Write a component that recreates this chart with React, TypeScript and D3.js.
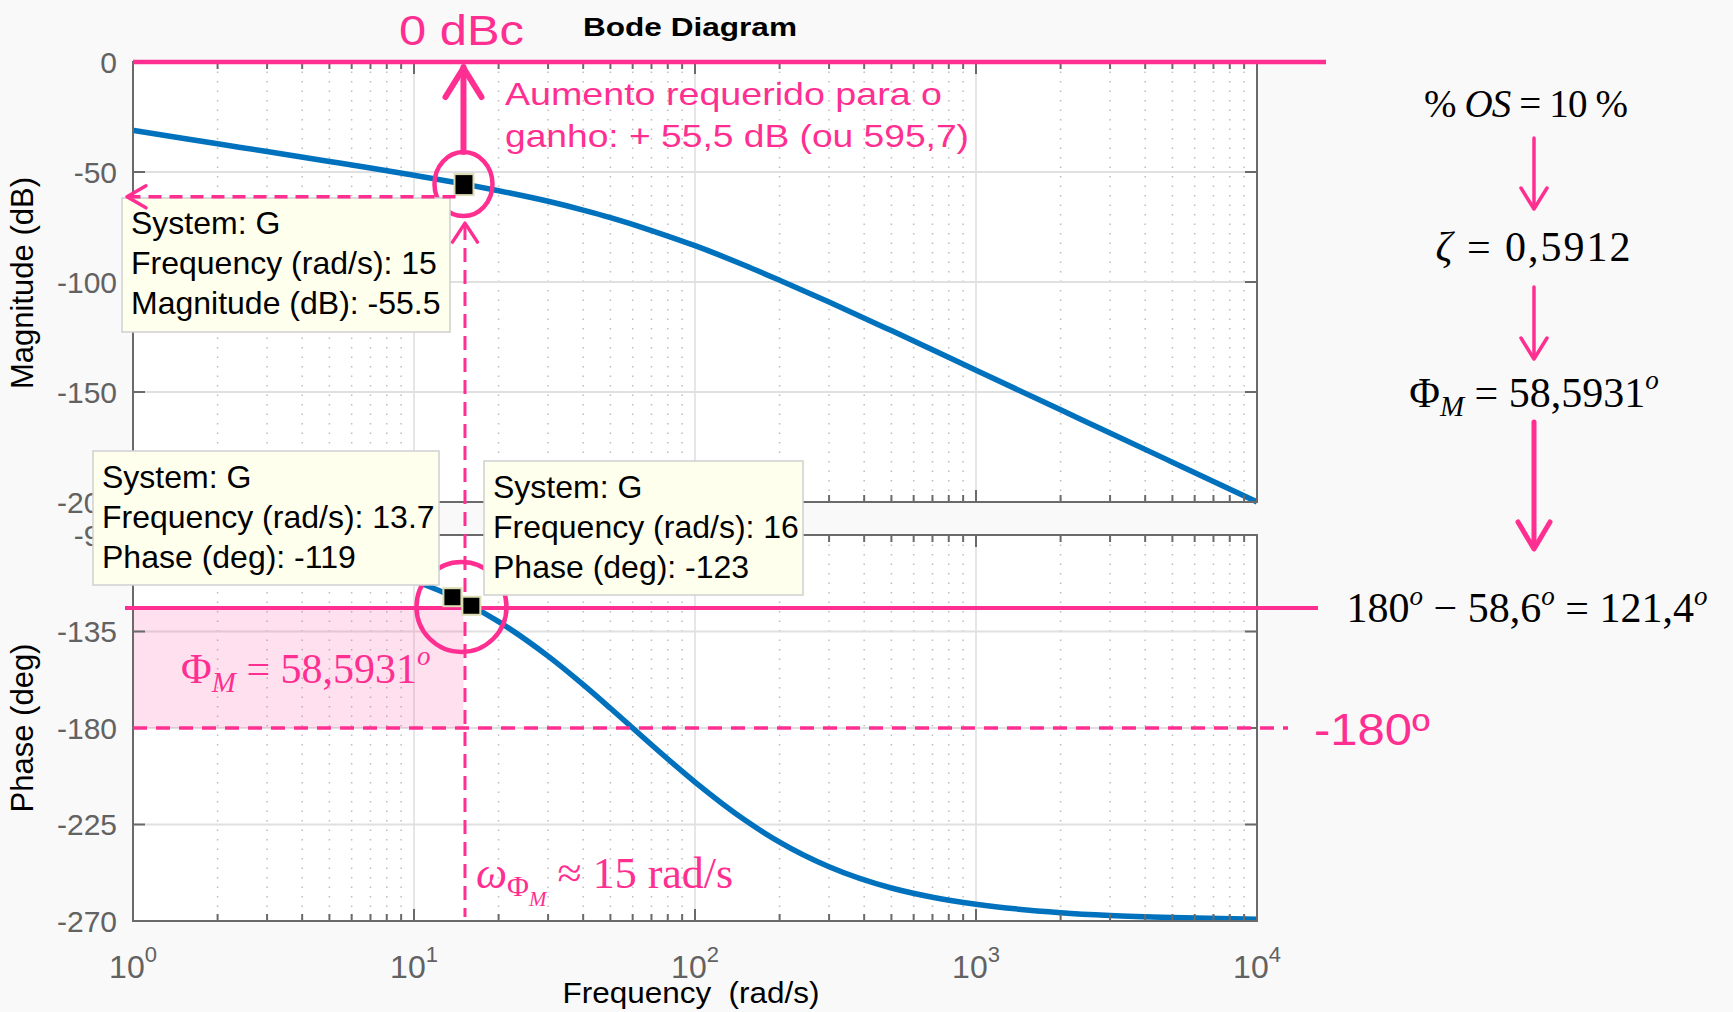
import React from 'react';
import * as d3 from 'd3';

// frequency samples (rad/s) with values
const freqs = [1, 1.5, 2, 3, 5, 7, 10, 15, 20, 30, 40, 50, 60, 70, 100, 150, 200, 300, 500, 700, 1000, 2000, 3000, 5000, 10000];
const magDb = [-31.1, -34.7, -37.2, -40.7, -45.2, -48.2, -51.5, -55.4, -58.5, -63.3, -67.3, -70.7, -73.8, -76.6, -83.5, -92.4, -99.2, -109.1, -122.1, -130.8, -140.1, -158.1, -168.6, -181.9, -200.0];
const phaseDeg = [-92.2, -93.3, -94.3, -96.5, -100.8, -105.0, -111.2, -121.2, -130.4, -146.5, -159.8, -170.8, -180.0, -187.8, -205.2, -222.8, -233.2, -244.7, -254.6, -258.9, -262.2, -266.1, -267.4, -268.4, -269.2];

const magTicks = [0, -50, -100, -150, -200];
const phaseTicks = [-90, -135, -180, -225, -270];
const decades = [1, 10, 100, 1000, 10000];
const decadeExp = ['0', '1', '2', '3', '4'];

// data tips: frequency, value
const magTipFreq = [15];
const magTipVal = [-55.5];
const phaseTipFreq = [13.7, 16];
const phaseTipVal = [-119, -123];

// annotation levels
const targetDb = 0;
const crossFreq = 15;
const crossDb = -55.5;
const readoutDb = -61.3; // where the dashed read-out arrow sits in the picture
const requiredPhase = -124;
const limitPhase = -180;

const pink = '#ff2f92';
const blue = '#0072bd';
const sans = 'Liberation Sans, Arial, Helvetica, sans-serif';
const serif = 'Liberation Serif, Times New Roman, serif';

const chevron = (tx: number, ty: number, ax: number, ay: number, bx: number, by: number) =>
  `M${ax},${ay}L${tx},${ty}L${bx},${by}`;

export default function App() {
  const W = 1733, H = 1012;
  const x = d3.scaleLog().domain([1, 1e4]).range([133, 1257]);
  const yMag = d3.scaleLinear().domain([-200, 0]).range([502, 62]);
  const yPh = d3.scaleLinear().domain([-270, -90]).range([921, 535]);
  const [L, R] = x.range();

  const minor = decades.slice(0, -1).flatMap(d => d3.range(2, 10).map(k => k * d));

  const magPath = d3.line<number>().x((_, i) => x(freqs[i])).y(d => yMag(d)).curve(d3.curveMonotoneX)(magDb) || '';
  const phPath = d3.line<number>().x((_, i) => x(freqs[i])).y(d => yPh(d)).curve(d3.curveMonotoneX)(phaseDeg) || '';

  const frame = (y: d3.ScaleLinear<number, number>, ticks: number[]) => {
    const [bot, top] = y.range();
    return (
      <g>
        <rect x={L} y={top} width={R - L} height={bot - top} fill="#fff" />
        {minor.map(m => (
          <line key={'m' + m} x1={x(m)} x2={x(m)} y1={top} y2={bot} stroke="#bdbdbd" strokeWidth={1.5} strokeDasharray="1.5,8" />
        ))}
        {decades.slice(1, -1).map(d => (
          <line key={'d' + d} x1={x(d)} x2={x(d)} y1={top} y2={bot} stroke="#e0e0e0" strokeWidth={1.6} />
        ))}
        {ticks.slice(1, -1).map(t => (
          <line key={'h' + t} x1={L} x2={R} y1={y(t)} y2={y(t)} stroke="#e0e0e0" strokeWidth={2} />
        ))}
      </g>
    );
  };

  const box = (y: d3.ScaleLinear<number, number>, ticks: number[]) => {
    const [bot, top] = y.range();
    return (
      <g stroke="#6a6a6a" strokeWidth={2}>
        <rect x={L} y={top} width={R - L} height={bot - top} fill="none" />
        {decades.map(d => (
          <g key={'t' + d}>
            <line x1={x(d)} x2={x(d)} y1={bot} y2={bot - 12} />
            <line x1={x(d)} x2={x(d)} y1={top} y2={top + 12} />
          </g>
        ))}
        {minor.map(m => (
          <g key={'mt' + m}>
            <line x1={x(m)} x2={x(m)} y1={bot} y2={bot - 7} />
            <line x1={x(m)} x2={x(m)} y1={top} y2={top + 7} />
          </g>
        ))}
        {ticks.map(t => (
          <g key={'yt' + t}>
            <line x1={L} x2={L + 12} y1={y(t)} y2={y(t)} />
            <line x1={R} x2={R - 12} y1={y(t)} y2={y(t)} />
          </g>
        ))}
      </g>
    );
  };

  const tickLabels = (y: d3.ScaleLinear<number, number>, ticks: number[]) =>
    ticks.map(t => (
      <text key={'yl' + t} x={L - 16} y={y(t)} dy="0.36em" textAnchor="end" fontSize={30} fill="#626262" fontFamily={sans}>
        {t}
      </text>
    ));

  const tip = (bx: number, by: number, bw: number, off: number, lines: string[]) => (
    <g>
      <rect x={bx} y={by} width={bw} height={134} fill="#ffffee" stroke="#cfcfcf" strokeWidth={1.5} />
      {lines.map((s, i) => (
        <text key={i} x={bx + 9} y={by + off + i * 40} fontSize={32} fontFamily={sans} fill="#000">{s}</text>
      ))}
    </g>
  );

  const cx = x(crossFreq);
  const cyMag = yMag(crossDb);
  const cyPh = yPh(requiredPhase);
  const ry = yMag(readoutDb);

  return (
    <svg width={W} height={H} style={{ position: 'absolute', left: 0, top: 0 }}>
      <rect width={W} height={H} fill="#f9f9f9" />

      {frame(yMag, magTicks)}
      {frame(yPh, phaseTicks)}

      {/* phase margin shading */}
      <rect x={L} y={cyPh} width={cx - L} height={yPh(limitPhase) - cyPh} fill="#fb3c96" fillOpacity={0.16} />

      <path d={magPath} fill="none" stroke={blue} strokeWidth={5.5} />
      <path d={phPath} fill="none" stroke={blue} strokeWidth={5.5} />

      {box(yMag, magTicks)}
      {box(yPh, phaseTicks)}

      {tickLabels(yMag, magTicks)}
      {tickLabels(yPh, phaseTicks)}

      {decades.map((d, i) => (
        <text key={'xl' + d} x={x(d)} y={978} textAnchor="middle" fontSize={32} fill="#626262" fontFamily={sans}>
          10<tspan dy={-16} fontSize={22}>{decadeExp[i]}</tspan>
        </text>
      ))}

      <text transform="translate(33,283) rotate(-90)" textAnchor="middle" fontSize={31} fontFamily={sans} fill="#000">Magnitude (dB)</text>
      <text transform="translate(33,728) rotate(-90)" textAnchor="middle" fontSize={31} fontFamily={sans} fill="#000">Phase (deg)</text>
      <text x={691} y={1003} textAnchor="middle" fontSize={30} fontFamily={sans} fill="#000" style={{ whiteSpace: 'pre' }} textLength={257} lengthAdjust="spacingAndGlyphs">Frequency  (rad/s)</text>
      <text x={690} y={36} textAnchor="middle" fontSize={26} fontWeight="bold" fontFamily={sans} fill="#000" textLength={214} lengthAdjust="spacingAndGlyphs">Bode Diagram</text>

      {/* magnitude annotations */}
      <line x1={L} x2={R + 69} y1={yMag(targetDb)} y2={yMag(targetDb)} stroke={pink} strokeWidth={4.5} />
      <g stroke={pink} fill="none" strokeLinecap="round" strokeLinejoin="round">
        <line x1={cx} x2={cx} y1={cyMag - 32} y2={yMag(targetDb) + 5} strokeWidth={6} />
        <path d={chevron(cx, yMag(targetDb) + 6, cx - 18, yMag(targetDb) + 35, cx + 18, yMag(targetDb) + 35)} strokeWidth={6} />
        <ellipse cx={cx} cy={cyMag} rx={29} ry={32} strokeWidth={4.5} />
        <path d={chevron(cx + 1.5, cyMag + 39, cx - 11, cyMag + 58, cx + 14, cyMag + 58)} strokeWidth={3.5} />
        <line x1={cx + 1.5} x2={cx + 1.5} y1={cyMag + 42} y2={yPh.range()[0] - 4} strokeWidth={3} strokeDasharray="14,8" strokeLinecap="butt" />
      </g>

      {/* phase annotations */}
      <g stroke={pink} fill="none">
        <line x1={L - 8} x2={R + 61} y1={cyPh} y2={cyPh} strokeWidth={4} />
        <line x1={L} x2={R + 31} y1={yPh(limitPhase)} y2={yPh(limitPhase)} strokeWidth={3.5} strokeDasharray="14,9" />
        <circle cx={cx - 2} cy={cyPh - 1} r={45} strokeWidth={4.5} />
      </g>

      {/* data tip markers */}
      {magTipFreq.map((f, i) => (
        <rect key={'mm' + i} x={x(f) - 9} y={yMag(magTipVal[i]) - 10} width={19} height={21} fill="#000" stroke="#dcdcb4" strokeWidth={2} />
      ))}
      {phaseTipFreq.map((f, i) => (
        <rect key={'pm' + i} x={x(f) - 9} y={yPh(phaseTipVal[i]) - 9} width={18} height={18} fill="#000" stroke="#dcdcb4" strokeWidth={2} />
      ))}

      {tip(122, 198, 328, 36, ['System: G', `Frequency (rad/s): ${magTipFreq[0]}`, `Magnitude (dB): ${magTipVal[0]}`])}
      {tip(93, 451, 346, 37, ['System: G', `Frequency (rad/s): ${phaseTipFreq[0]}`, `Phase (deg): ${phaseTipVal[0]}`])}
      {tip(484, 461, 319, 37, ['System: G', `Frequency (rad/s): ${phaseTipFreq[1]}`, `Phase (deg): ${phaseTipVal[1]}`])}

      {/* dashed read-out arrow to the magnitude axis */}
      <g stroke={pink} fill="none" strokeLinecap="round" strokeLinejoin="round">
        <line x1={cx - 8} x2={L - 4} y1={ry} y2={ry} strokeWidth={3.5} strokeDasharray="13,8" strokeLinecap="butt" />
        <path d={chevron(L - 6, ry, L + 13, ry - 11, L + 13, ry + 11)} strokeWidth={3.5} />
      </g>

      {/* pink texts */}
      <text x={399} y={45} fontSize={42} fontFamily={sans} fill={pink} textLength={125} lengthAdjust="spacingAndGlyphs">0 dBc</text>
      <text x={505} y={105} fontSize={32} fontFamily={sans} fill={pink} textLength={437} lengthAdjust="spacingAndGlyphs">Aumento requerido para o</text>
      <text x={505} y={147} fontSize={32} fontFamily={sans} fill={pink} textLength={464} lengthAdjust="spacingAndGlyphs">ganho: + 55,5 dB (ou 595,7)</text>
      <text x={1314} y={745} fontSize={44} fontFamily={sans} fill={pink} textLength={116} lengthAdjust="spacingAndGlyphs">-180º</text>

      <text x={181} y={683} fontSize={42} fontFamily={serif} fill={pink}>
        Φ<tspan dy={9} fontSize={29} fontStyle="italic">M</tspan>
        <tspan dy={-9}>{' = 58,5931'}</tspan>
        <tspan dy={-18} fontSize={27} fontStyle="italic">o</tspan>
      </text>
      <text x={476} y={888} fontSize={44} fontFamily={serif} fill={pink}>
        <tspan fontStyle="italic">ω</tspan>
        <tspan dy={8} fontSize={30}>Φ</tspan>
        <tspan dy={10} fontSize={21} fontStyle="italic">M</tspan>
        <tspan dy={-18}>{' ≈ 15 rad/s'}</tspan>
      </text>

      {/* right-hand derivation */}
      <g fontFamily={serif} fill="#000" textAnchor="middle">
        <text x={1526} y={117} fontSize={39} textLength={204} lengthAdjust="spacing">
          %<tspan fontStyle="italic">{' OS'}</tspan>{' = 10 %'}
        </text>
        <text x={1533} y={261} fontSize={42} textLength={195} lengthAdjust="spacing">
          <tspan fontStyle="italic">ζ</tspan>{' = 0,5912'}
        </text>
        <text x={1534} y={407} fontSize={42}>
          Φ<tspan dy={9} fontSize={29} fontStyle="italic">M</tspan>
          <tspan dy={-9}>{' = 58,5931'}</tspan>
          <tspan dy={-18} fontSize={27} fontStyle="italic">o</tspan>
        </text>
        <text x={1527} y={622} fontSize={42}>
          180<tspan dy={-17} fontSize={27} fontStyle="italic">o</tspan>
          <tspan dy={17}>{' − 58,6'}</tspan>
          <tspan dy={-17} fontSize={27} fontStyle="italic">o</tspan>
          <tspan dy={17}>{' = 121,4'}</tspan>
          <tspan dy={-17} fontSize={27} fontStyle="italic">o</tspan>
        </text>
      </g>
      <g stroke={pink} fill="none" strokeLinecap="round" strokeLinejoin="round">
        <line x1={1534} x2={1534} y1={138} y2={207} strokeWidth={3.5} />
        <path d={chevron(1534, 209, 1521, 188, 1547, 188)} strokeWidth={3.5} />
        <line x1={1534} x2={1534} y1={287} y2={357} strokeWidth={3.5} />
        <path d={chevron(1534, 359, 1521, 338, 1547, 338)} strokeWidth={3.5} />
        <line x1={1534} x2={1534} y1={422} y2={546} strokeWidth={5} />
        <path d={chevron(1534, 549, 1518, 522, 1550, 522)} strokeWidth={5} />
      </g>
    </svg>
  );
}
